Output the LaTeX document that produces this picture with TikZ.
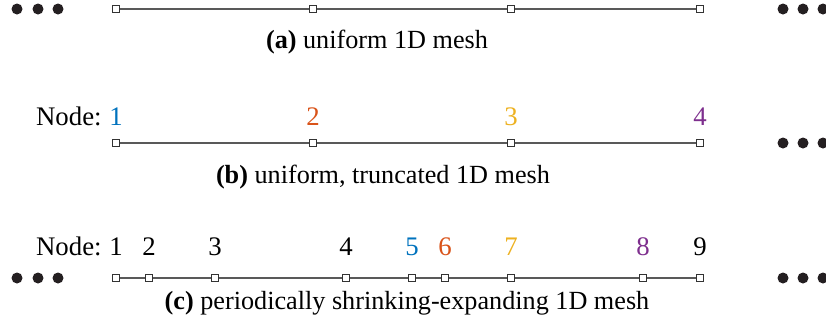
\documentclass[tikz,border=0pt]{standalone}
\usepackage{fontspec}
\setmainfont{Liberation Serif}
\usetikzlibrary{positioning}

\definecolor{mblue}{rgb}{0,0.447,0.741}
\definecolor{mred}{rgb}{0.85,0.325,0.098}
\definecolor{myellow}{rgb}{0.929,0.694,0.125}
\definecolor{mpurple}{rgb}{0.494,0.184,0.556}
\definecolor{dotgray}{rgb}{0.14,0.12,0.13}

\begin{document}
\begin{tikzpicture}[
        x=0.5pt, y=-0.5pt,
        every node/.style={font=\fontsize{13.4}{16}\selectfont, inner sep=0pt},
        meshpt/.style={rectangle, draw=black!80, fill=white, line width=0.6pt, minimum size=3.4pt},
        meshline/.style={black!65, line width=0.55pt},
        nodelbl/.style={anchor=base},
        caption/.style={anchor=base, font=\fontsize{13.1}{16}\selectfont},
        dot/.style={fill=dotgray}
    ]
        \useasboundingbox (0,0) rectangle (826,333);

        % (a) uniform mesh
        \foreach \i/\x in {1/116, 2/313, 3/511, 4/700}
            \node[meshpt] (a\i) at (\x,9) {};
        \draw[meshline] (a1) -- (a2) -- (a3) -- (a4);
        \node[caption] (capa) at (377,48) {\textbf{(a)} uniform 1D mesh};

        % (b) truncated mesh
        \foreach \i/\x/\c in {1/116/mblue, 2/313/mred, 3/511/myellow, 4/700/mpurple} {
            \node[meshpt] (b\i) at (\x,143) {};
            \node[nodelbl, text=\c] (lb\i) at (\x,125) {\i};
        }
        \draw[meshline] (b1) -- (b2) -- (b3) -- (b4);
        \node[anchor=base east] (nodeb) at (102,125) {Node:};
        \node[caption] (capb) at (383,183) {\textbf{(b)} uniform, truncated 1D mesh};

        % (c) shrinking-expanding mesh
        \foreach \i/\x/\c in {1/116/black, 2/149/black, 3/215/black, 4/346/black, 5/412/mblue,
                              6/445/mred, 7/511/myellow, 8/643/mpurple, 9/700/black} {
            \node[meshpt] (c\i) at (\x,278) {};
            \node[nodelbl, text=\c] (lc\i) at (\x,255) {\i};
        }
        \draw[meshline] (c1) -- (c2) -- (c3) -- (c4) -- (c5) -- (c6) -- (c7) -- (c8) -- (c9);
        \node[anchor=base east] (nodec) at (102,255) {Node:};
        \node[caption] (capc) at (407,309) {\textbf{(c)} periodically shrinking-expanding 1D mesh};

        % dots for periodic continuation
        \foreach \x in {17, 38, 58} {
            \fill[dot] (\x,9) circle (5.5);
            \fill[dot] (\x,278) circle (5.5);
        }
        \foreach \x in {783, 803, 823} {
            \fill[dot] (\x,9) circle (5.5);
            \fill[dot] (\x,143) circle (5.5);
            \fill[dot] (\x,278) circle (5.5);
        }
    \end{tikzpicture}
\end{document}
